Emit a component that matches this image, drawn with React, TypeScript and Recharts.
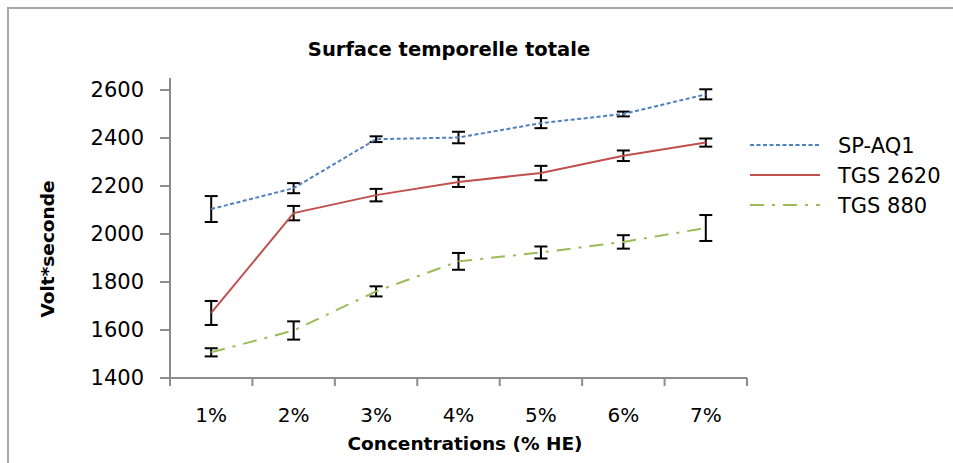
import { LineChart, Line, XAxis, YAxis, ErrorBar } from 'recharts';

const categories = ['1%', '2%', '3%', '4%', '5%', '6%', '7%'];

const spAq1 = [2104, 2191, 2395, 2402, 2462, 2500, 2582];
const spAq1Err = [54, 21, 12, 24, 21, 10, 21];

const tgs2620 = [1671, 2087, 2162, 2217, 2254, 2326, 2381];
const tgs2620Err = [50, 30, 26, 21, 30, 22, 17];

const tgs880 = [1507, 1598, 1761, 1886, 1923, 1967, 2025];
const tgs880Err = [17, 38, 21, 35, 25, 28, 54];

const yTicks = [1400, 1600, 1800, 2000, 2200, 2400, 2600];

const series = [
	{ key: 'sp', name: 'SP-AQ1', color: '#4f81bd', dash: '4 2.5' },
	{ key: 'tgs2620', name: 'TGS 2620', color: '#c0504d', dash: undefined },
	{ key: 'tgs880', name: 'TGS 880', color: '#9bbb59', dash: '14 8 3 8' },
];

const data = categories.map((name, i) => ({
	name,
	sp: spAq1[i],
	spErr: spAq1Err[i],
	tgs2620: tgs2620[i],
	tgs2620Err: tgs2620Err[i],
	tgs880: tgs880[i],
	tgs880Err: tgs880Err[i],
}));

const W = 953;
const H = 463;
const margin = { top: 78, right: 206, bottom: 5, left: 30 };
const Y_AXIS_W = 140;
const X_AXIS_H = 80;
const PLOT_W = W - margin.left - margin.right - Y_AXIS_W;
const BAND = PLOT_W / categories.length;
const FONT = '"DejaVu Sans", sans-serif';
const AXIS_GREY = '#8c8c8c';

function XTick(props: any) {
	const { x, y, payload, index } = props;
	const half = BAND / 2;
	return (
		<g>
			<line x1={x - half} x2={x - half} y1={y} y2={y + 8} stroke={AXIS_GREY} strokeWidth={2} />
			{index === categories.length - 1 && (
				<line x1={x + half} x2={x + half} y1={y} y2={y + 8} stroke={AXIS_GREY} strokeWidth={2} />
			)}
			<text x={x} y={y + 44} textAnchor="middle" fontFamily={FONT} fontSize={20} fill="#000">
				{payload.value}
			</text>
		</g>
	);
}

export default function App() {
	return (
		<div style={{ position: 'absolute', left: 0, top: 0, width: W, height: H, overflow: 'hidden', background: '#fff' }}>
			<div
				style={{
					position: 'absolute',
					left: 7,
					top: 7,
					width: 1000,
					height: 600,
					borderTop: '2.5px solid #a8a8a8',
					borderLeft: '2.5px solid #a8a8a8',
				}}
			/>
			<div style={{ position: 'absolute', left: 0, top: 0 }}>
				<LineChart width={W} height={H} data={data} margin={margin}>
					<XAxis
						dataKey="name"
						height={X_AXIS_H}
						padding={{ left: BAND / 2, right: BAND / 2 }}
						tickSize={0}
						tickMargin={0}
						tickLine={false}
						tick={<XTick />}
						interval={0}
						axisLine={{ stroke: AXIS_GREY, strokeWidth: 2 }}
						label={{
							content: () => (
								<text x={465} y={450} textAnchor="middle" fontFamily={FONT} fontWeight="bold" fontSize={18.5} fill="#000">
									Concentrations (% HE)
								</text>
							),
						}}
					/>
					<YAxis
						type="number"
						width={Y_AXIS_W}
						domain={[1400, 2650]}
						ticks={yTicks}
						interval={0}
						tickSize={10}
						tickMargin={16}
						axisLine={{ stroke: AXIS_GREY, strokeWidth: 2 }}
						tickLine={{ stroke: AXIS_GREY, strokeWidth: 2 }}
						tick={{ fill: '#000', fontSize: 21, fontFamily: FONT }}
						label={{
							content: () => (
								<text
									x={47}
									y={249}
									transform="rotate(-90, 47, 249)"
									textAnchor="middle"
									dominantBaseline="central"
									fontFamily={FONT}
									fontWeight="bold"
									fontSize={18.5}
									fill="#000"
								>
									Volt*seconde
								</text>
							),
						}}
					/>
					{series.map((s) => (
						<Line
							key={s.key}
							type="linear"
							dataKey={s.key}
							name={s.name}
							stroke={s.color}
							strokeWidth={2}
							strokeDasharray={s.dash}
							dot={false}
							activeDot={false}
							isAnimationActive={false}
						>
							<ErrorBar
								dataKey={s.key + 'Err'}
								direction="y"
								width={6.5}
								stroke="#000"
								strokeWidth={2}
								isAnimationActive={false}
							/>
						</Line>
					))}
				</LineChart>
			</div>
			<svg width={W} height={H} style={{ position: 'absolute', left: 0, top: 0, pointerEvents: 'none' }}>
				<text x={449} y={56} textAnchor="middle" fontFamily={FONT} fontWeight="bold" fontSize={19.5} fill="#000">
					Surface temporelle totale
				</text>
				{series.map((s, i) => (
					<g key={s.key}>
						<line
							x1={750}
							x2={820}
							y1={145 + i * 30}
							y2={145 + i * 30}
							stroke={s.color}
							strokeWidth={2}
							strokeDasharray={s.dash}
						/>
						<text x={838} y={145 + i * 30 + 7.5} fontFamily={FONT} fontSize={21} fill="#000">
							{s.name}
						</text>
					</g>
				))}
			</svg>
		</div>
	);
}
